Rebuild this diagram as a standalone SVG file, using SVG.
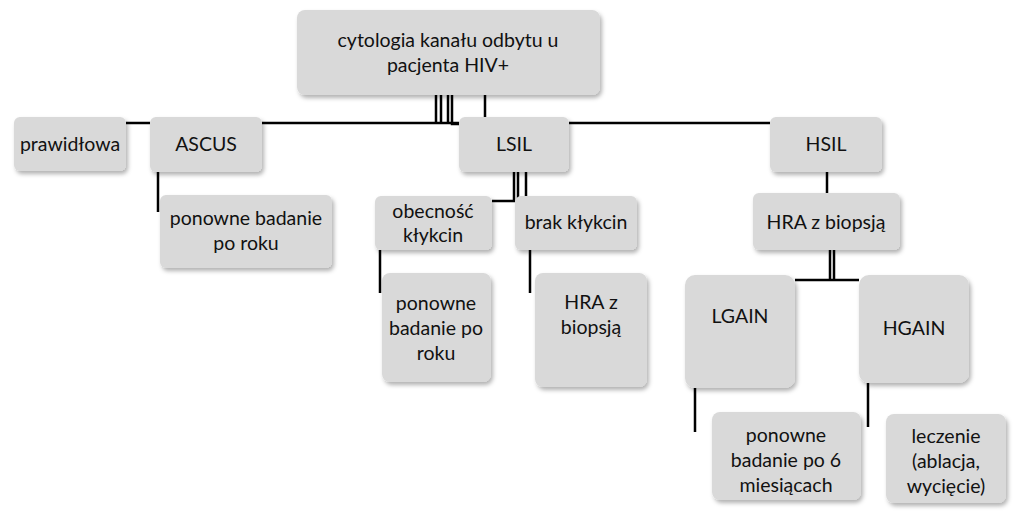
<svg xmlns="http://www.w3.org/2000/svg" width="1023" height="524" viewBox="0 0 1023 524">
<defs>
<filter id="sh" x="-10%" y="-10%" width="130%" height="130%"><feDropShadow dx="2" dy="3" stdDeviation="2" flood-color="#000" flood-opacity="0.3"/></filter>
<style>
rect{fill:#d9d9d9;filter:url(#sh)}
text{font-family:Lato,"Open Sans",sans-serif;font-size:19.5px;fill:#111;text-anchor:middle}
#conn path{stroke:#000;stroke-width:2.5;fill:none}
</style>
</defs>
<g id="conn">
<path d="M126 123H150M262 123H459M569 123H770"/>
<path d="M436 95V123M441 95V123M448 95V123M452 95V124H460M485 95V117"/>
<path d="M158 172V212"/>
<path d="M514 172V201H492M518 172V201M526 172V196"/>
<path d="M380 250V293M530 250V293"/>
<path d="M827 172V193"/>
<path d="M830 250V280M834 250V280M795 280H859"/>
<path d="M695 388V432M868 383V427"/>
</g>
<g id="root"><rect x="297" y="10" width="303" height="85" rx="8"/><text x="448" y="47">cytologia kanału odbytu u</text><text x="448" y="72">pacjenta HIV+</text></g>
<g id="prawidlowa"><rect x="14" y="117" width="112" height="54" rx="6"/><text x="70" y="151">prawidłowa</text></g>
<g id="ascus"><rect x="150" y="117" width="112" height="55" rx="6"/><text x="206" y="151">ASCUS</text></g>
<g id="ascus-next"><rect x="160" y="195" width="172" height="73" rx="6"/><text x="246" y="225">ponowne badanie</text><text x="246" y="250">po roku</text></g>
<g id="lsil"><rect x="459" y="117" width="110" height="55" rx="6"/><text x="514" y="151">LSIL</text></g>
<g id="hsil"><rect x="770" y="117" width="112" height="55" rx="6"/><text x="826" y="151">HSIL</text></g>
<g id="obecnosc"><rect x="375" y="196" width="117" height="54" rx="6"/><text x="433" y="218">obecność</text><text x="433" y="242">kłykcin</text></g>
<g id="brak"><rect x="515" y="196" width="122" height="54" rx="6"/><text x="576" y="229">brak kłykcin</text></g>
<g id="obecnosc-next"><rect x="382" y="273" width="109" height="109" rx="8"/><text x="436" y="310">ponowne</text><text x="436" y="335">badanie po</text><text x="436" y="360">roku</text></g>
<g id="hra1"><rect x="535" y="273" width="112" height="114" rx="8"/><text x="591" y="309">HRA z</text><text x="591" y="334">biopsją</text></g>
<g id="hra2"><rect x="753" y="193" width="147" height="57" rx="6"/><text x="826" y="229">HRA z biopsją</text></g>
<g id="lgain"><rect x="685" y="275" width="110" height="113" rx="10"/><text x="740" y="323">LGAIN</text></g>
<g id="hgain"><rect x="859" y="275" width="110" height="108" rx="10"/><text x="914" y="335">HGAIN</text></g>
<g id="lgain-next"><rect x="712" y="412" width="149" height="88" rx="8"/><text x="786" y="442">ponowne</text><text x="786" y="467">badanie po 6</text><text x="786" y="492">miesiącach</text></g>
<g id="hgain-next"><rect x="886" y="414" width="120" height="89" rx="8"/><text x="946" y="443">leczenie</text><text x="946" y="468">(ablacja,</text><text x="946" y="493">wycięcie)</text></g>
</svg>
